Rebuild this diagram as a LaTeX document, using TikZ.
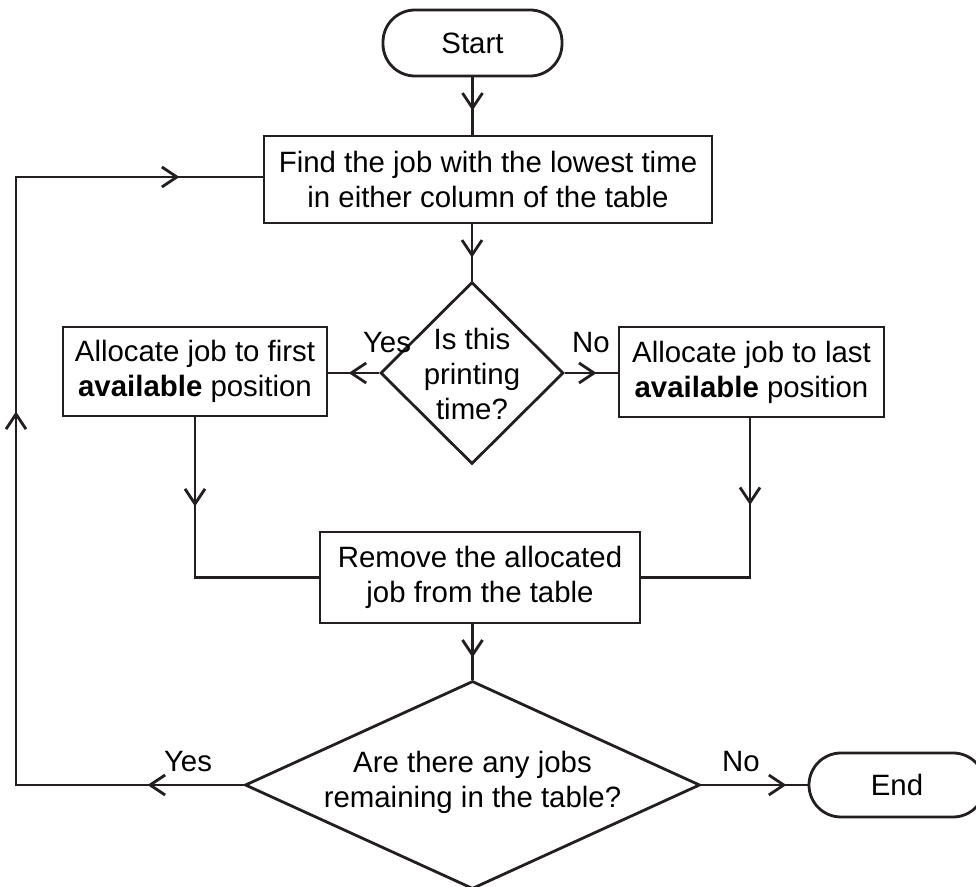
\documentclass[tikz,border=0pt]{standalone}
\usepackage{fontspec}
\setmainfont{Liberation Sans}
\usetikzlibrary{arrows.meta,decorations.markings,shapes.geometric}
\definecolor{ink}{HTML}{231F20}
\newcommand\fsz{\fontsize{14.7}{17.5}\selectfont}
\tikzset{
  ln/.style={draw=ink, line width=1.4pt},
  box/.style={draw=ink, line width=1.4pt, rectangle, inner sep=0pt, align=center, font=\fsz},
  term/.style={box, rounded corners=16pt},
  dia/.style={draw=ink, line width=1.4pt, diamond, inner sep=0pt, minimum width=#1},
  txt/.style={align=center, font=\fsz, inner sep=0pt},
  chev/.style={postaction={decorate}, decoration={markings,
      mark=at position #1 with {\arrow{Straight Barb[length=7.5pt,width=10pt]}}}},
}
\begin{document}
\begin{tikzpicture}[x=0.5pt,y=-0.5pt]
\useasboundingbox (0,0) rectangle (976,887);
% nodes
\node[term, minimum width=89.5pt, minimum height=33pt] (start) at (472.5,43) {Start};
\node[box, minimum width=224pt, minimum height=43.5pt] (find) at (488,179.5)
  {Find the job with the lowest time\\in either column of the table};
\node[dia=91.5pt, minimum height=91pt] (d1) at (472,373) {};
\node[txt] (d1t) at (472,374) {Is this\\printing\\time?};
\node[box, minimum width=132pt, minimum height=44.5pt] (left) at (195,371.5)
  {Allocate job to first\\\textbf{available} position};
\node[box, minimum width=132.5pt, minimum height=45pt] (right) at (751.5,372)
  {Allocate job to last\\\textbf{available} position};
\node[box, minimum width=160pt, minimum height=45.5pt] (rem) at (480,577.5)
  {Remove the allocated\\job from the table};
\node[dia=227.5pt, minimum height=104pt] (d2) at (472.5,785) {};
\node[txt] (d2t) at (472.5,782) {Are there any jobs\\remaining in the table?};
\node[term, minimum width=88pt, minimum height=32pt] (end) at (897,785) {End};
% labels
\node[txt] (yes1) at (387,343) {Yes};
\node[txt] (no1) at (591,343) {No};
\node[txt] (yes2) at (188,762) {Yes};
\node[txt] (no2) at (741,762) {No};
\coordinate (lb) at (16,785);
\coordinate (lt) at (16,177);
% connectors
\draw[ln, chev=0.58] (start.south) -- (start.south |- find.north);
\draw[ln, chev=0.59] (d1.north |- find.south) -- (d1.north);
\draw[ln, chev=0.6] (d1.west) -- (left.east |- d1.west);
\draw[ln, chev=0.6] (d1.east) -- (right.west |- d1.east);
\draw[ln, chev=44.5pt] (750,416) -- (750,577.5) -- (rem.east);
\draw[ln, chev=44.5pt] (left.south) -- (left.south |- rem.west) -- (rem.west);
\draw[ln, chev=0.6] (d2.north |- rem.south) -- (d2.north);
\draw[ln, chev=0.8] (d2.east) -- (end.west);
\draw[ln, postaction={decorate}, decoration={markings,
    mark=at position 48pt with {\arrow{Straight Barb[length=7.5pt,width=10pt]}},
    mark=at position 300.5pt with {\arrow{Straight Barb[length=7.5pt,width=10pt]}},
    mark=at position 499.5pt with {\arrow{Straight Barb[length=7.5pt,width=10pt]}}}]
  (d2.west) -- (lb) -- (lt) -- (find.west |- lt);
\end{tikzpicture}
\end{document}
